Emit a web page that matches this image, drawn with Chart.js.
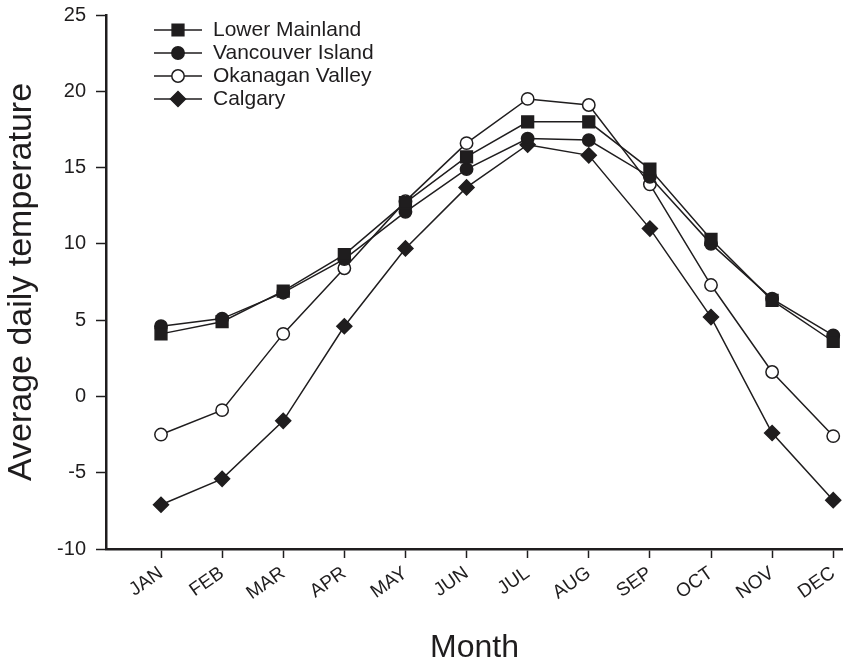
<!DOCTYPE html>
<html>
<head>
<meta charset="utf-8">
<script src="https://cdn.jsdelivr.net/npm/chart.js@4/dist/chart.umd.min.js"></script>
<style>
    html, body { margin: 0; padding: 0; background: #fff; }
    #wrap { width: 843px; height: 664px; }
</style>
</head>
<body>
<div id="wrap"><canvas id="tempChart" width="843" height="664"></canvas></div>
<script>
(function () {
    'use strict';

    // data (deg C)
    var months = ['JAN', 'FEB', 'MAR', 'APR', 'MAY', 'JUN', 'JUL', 'AUG', 'SEP', 'OCT', 'NOV', 'DEC'];
    var lowerMainland = [4.1, 4.9, 6.9, 9.3, 12.7, 15.7, 18.0, 18.0, 14.9, 10.3, 6.3, 3.6];
    var vancouverIsland = [4.6, 5.1, 6.8, 9.0, 12.1, 14.9, 16.9, 16.8, 14.4, 10.0, 6.4, 4.0];
    var okanaganValley = [-2.5, -0.9, 4.1, 8.4, 12.8, 16.6, 19.5, 19.1, 13.9, 7.3, 1.6, -2.6];
    var calgary = [-7.1, -5.4, -1.6, 4.6, 9.7, 13.7, 16.5, 15.8, 11.0, 5.2, -2.4, -6.8];
    var yTicks = [-10, -5, 0, 5, 10, 15, 20, 25];

    var ink = '#1f1d1e';
    var font = '"Liberation Sans", Arial, sans-serif';

    function toPoints(arr) {
        return arr.map(function (v, i) { return { x: i + 1, y: v }; });
    }

    function series(label, values, style, radius, fill) {
        return {
            label: label,
            data: toPoints(values),
            borderColor: ink,
            borderWidth: 1.5,
            pointStyle: style,
            pointRadius: radius,
            pointBackgroundColor: fill,
            pointBorderColor: ink,
            pointBorderWidth: 1.5,
            tension: 0
        };
    }

    // kill the label overhang padding so the plot box is fixed
    function noPad(scale) {
        scale.paddingLeft = 0;
        scale.paddingRight = 0;
        scale.paddingTop = 0;
        scale.paddingBottom = 0;
    }

    // legend drawn as line + marker, like the original plot
    var lineLegend = {
        id: 'lineLegend',
        afterDraw: function (chart) {
            var ctx = chart.ctx;
            var left = chart.chartArea.left;
            chart.data.datasets.forEach(function (ds, i) {
                var y = 30 + i * 23;
                ctx.save();
                ctx.strokeStyle = ink;
                ctx.lineWidth = 1.5;
                ctx.beginPath();
                ctx.moveTo(left + 48, y);
                ctx.lineTo(left + 96, y);
                ctx.stroke();
                ctx.fillStyle = ds.pointBackgroundColor;
                ctx.lineWidth = ds.pointBorderWidth;
                Chart.helpers.drawPoint(ctx, {
                    pointStyle: ds.pointStyle,
                    radius: ds.pointRadius,
                    borderWidth: ds.pointBorderWidth,
                    rotation: 0
                }, left + 72, y);
                ctx.fillStyle = ink;
                ctx.font = '21px ' + font;
                ctx.textBaseline = 'middle';
                ctx.textAlign = 'left';
                ctx.fillText(ds.label, left + 107, y);
                ctx.restore();
            });
        }
    };

    var canvas = document.getElementById('tempChart');

    new Chart(canvas.getContext('2d'), {
        type: 'line',
        data: {
            datasets: [
                series('Lower Mainland', lowerMainland, 'rect', 8.3, ink),
                series('Vancouver Island', vancouverIsland, 'circle', 6.2, ink),
                series('Okanagan Valley', okanaganValley, 'circle', 6.2, '#ffffff'),
                series('Calgary', calgary, 'rectRot', 7.5, ink)
            ]
        },
        plugins: [lineLegend],
        options: {
            responsive: false,
            animation: false,
            clip: false,
            layout: { autoPadding: false, padding: { top: 15, right: 0, bottom: 0, left: 0 } },
            plugins: {
                legend: { display: false },
                tooltip: { enabled: false }
            },
            scales: {
                x: {
                    type: 'linear',
                    min: 0.1,
                    max: 12.16,
                    afterBuildTicks: function (scale) {
                        scale.ticks = months.map(function (m, i) { return { value: i + 1 }; });
                    },
                    afterFit: function (scale) {
                        scale.height = 115;
                        noPad(scale);
                    },
                    ticks: {
                        autoSkip: false,
                        minRotation: 35,
                        maxRotation: 35,
                        padding: 4,
                        color: ink,
                        font: { family: font, size: 19 },
                        callback: function (value) { return months[value - 1]; }
                    },
                    grid: {
                        drawOnChartArea: false,
                        drawTicks: true,
                        tickLength: 9,
                        tickWidth: 1.5,
                        tickColor: ink
                    },
                    border: { display: true, color: ink, width: 2.5 },
                    title: {
                        display: true,
                        text: 'Month',
                        color: ink,
                        font: { family: font, size: 32, lineHeight: 1 },
                        padding: { top: 0, bottom: 0 }
                    }
                },
                y: {
                    min: -10,
                    max: 25,
                    afterBuildTicks: function (scale) {
                        scale.ticks = yTicks.map(function (v) { return { value: v }; });
                    },
                    afterFit: function (scale) {
                        scale.width = 106;
                        noPad(scale);
                    },
                    ticks: {
                        padding: 10,
                        color: ink,
                        font: { family: font, size: 20 }
                    },
                    grid: {
                        drawOnChartArea: false,
                        drawTicks: true,
                        tickLength: 10,
                        tickWidth: 1.5,
                        tickColor: ink
                    },
                    border: { display: true, color: ink, width: 2.5 },
                    title: {
                        display: true,
                        text: 'Average daily temperature',
                        color: ink,
                        font: { family: font, size: 34, lineHeight: 1 },
                        padding: { top: 5, bottom: 0 }
                    }
                }
            }
        }
    });
})();
</script>
</body>
</html>
